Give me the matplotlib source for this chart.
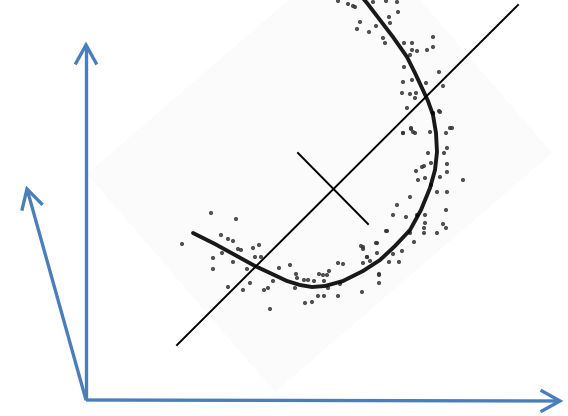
import numpy as np
import matplotlib
matplotlib.use('Agg')
import matplotlib.pyplot as plt
from matplotlib.patches import Polygon

# todo en coordenadas de pixel de la imagen (y hacia abajo)
origen = (86, 400)
puntas = [(86, 45), (560, 401), (27, 189)]

fondo_x = [87, 275, 552, 364]
fondo_y = [174, 392, 153, -65]

eje_x = [177, 518]
eje_y = [345, 5]
perp_x = [298, 368]
perp_y = [153, 224]

curva_x = [193, 215, 235, 255, 270, 287, 300, 312, 325, 343, 363, 380, 395, 410, 421,
           430, 435, 437, 436, 433, 428, 422, 415, 407, 393, 380, 367, 361]
curva_y = [233, 244, 255, 266, 273, 281, 285, 287, 286, 281, 271, 260, 246, 230, 210,
           188, 170, 152, 133, 115, 101, 88, 73, 57, 37, 20, 3, -4]

puntos_x = [211, 236, 182, 221, 228, 233, 238, 241, 253, 259, 213, 222, 233, 213,
            247, 255, 261, 250, 228, 243, 264, 268, 270, 273, 279, 290, 296, 297,
            295, 304, 308, 314, 319, 323, 327, 329, 324, 328, 318, 324, 338, 340,
            305, 312, 338, 343, 362, 361, 363, 367, 363, 370, 376, 377, 379, 379,
            386, 407, 411, 413, 403, 430, 433, 440, 450, 446, 447, 444, 428, 431,
            447, 447, 463, 440, 422, 424, 416, 418, 425, 431, 437, 447, 410, 397,
            446, 393, 406, 417, 425, 425, 424, 424, 410, 387, 443, 446, 437, 414,
            402, 377, 363, 367, 389, 399, 379, 393, 338, 348, 353, 355, 373, 386,
            397, 389, 398, 360, 357, 369, 376, 390, 383, 385, 404, 412, 412, 417,
            427, 433, 433, 410, 404, 439, 443, 403, 412, 426, 402, 410, 416, 415,
            439, 433, 411, 403, 415, 452]
puntos_y = [213, 219, 244, 235, 239, 241, 249, 250, 248, 245, 258, 253, 262, 269,
            269, 257, 257, 283, 287, 290, 290, 288, 309, 281, 268, 265, 274, 278,
            288, 280, 280, 281, 274, 275, 275, 271, 281, 288, 296, 296, 296, 284,
            303, 302, 263, 264, 292, 246, 249, 257, 263, 261, 243, 253, 275, 283,
            231, 108, 129, 132, 133, 132, 113, 112, 128, 133, 148, 153, 153, 163,
            164, 172, 180, 177, 167, 166, 171, 180, 178, 185, 192, 192, 197, 205,
            210, 215, 217, 215, 215, 223, 228, 233, 233, 231, 224, 228, 233, 242,
            251, 243, 247, 257, 262, 262, 274, 254, 1, 4, 6, 7, 2, 1,
            2, 17, 12, 22, 29, 32, 26, 23, 38, 43, 43, 43, 50, 51,
            50, 37, 47, 55, 67, 72, 86, 82, 80, 83, 93, 94, 93, 98,
            111, 113, 128, 133, 133, 128]

azul = '#4a7ebb'


def flecha(ax, a, b, largo=18, ancho=10):
    a = np.array(a, float)
    b = np.array(b, float)
    d = (b - a) / np.hypot(*(b - a))
    n = np.array([-d[1], d[0]])
    base = b - d * largo
    ax.plot([a[0], b[0]], [a[1], b[1]], color=azul, lw=2.4, solid_capstyle='butt')
    ax.plot([base[0] + n[0] * ancho, b[0], base[0] - n[0] * ancho],
            [base[1] + n[1] * ancho, b[1], base[1] - n[1] * ancho],
            color=azul, lw=2.4, solid_joinstyle='miter')


fig = plt.figure(figsize=(5.68, 4.16), dpi=100)
ax = fig.add_axes([0, 0, 1, 1])
ax.set_xlim(0, 568)
ax.set_ylim(416, 0)
ax.axis('off')

ax.add_patch(Polygon(list(zip(fondo_x, fondo_y)), closed=True,
                     facecolor='#fbfbfb', edgecolor='none', zorder=0))

for p in puntas:
    flecha(ax, origen, p)

ax.plot(eje_x, eje_y, color='black', lw=1.4)
ax.plot(perp_x, perp_y, color='black', lw=1.4)

ax.scatter(puntos_x, puntos_y, s=9, color='#333333', alpha=0.85,
           edgecolors='none', zorder=3)
ax.plot(curva_x, curva_y, color='black', lw=2.8, alpha=0.9,
        solid_capstyle='round', solid_joinstyle='round', zorder=4)

fig.savefig('out.png', dpi=100)
